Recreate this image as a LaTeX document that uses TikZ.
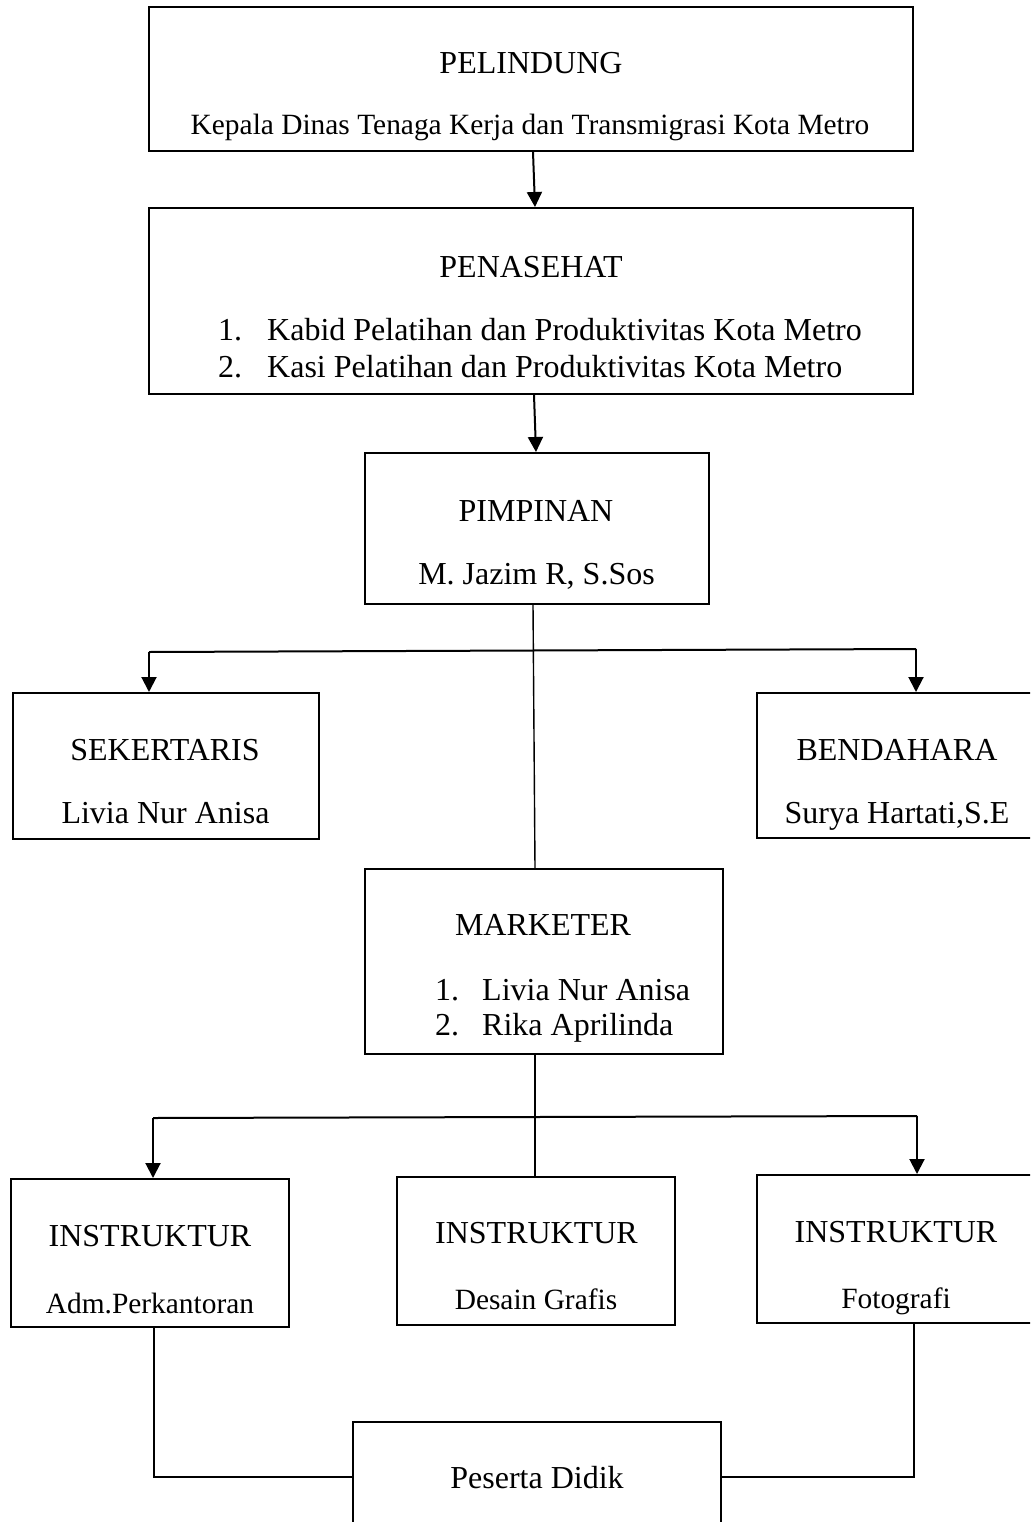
\documentclass[tikz,border=0pt]{standalone}
\usepackage{fontspec}
\setmainfont{Liberation Serif}
\usetikzlibrary{arrows.meta,calc}
\tikzset{
  box/.style={draw, line width=2pt, inner sep=0pt, rectangle},
  arr/.style={line width=2pt, -{Triangle[width=15pt,length=15pt]}},
  thick line/.style={line width=2pt},
  thin line/.style={line width=1.4pt},
  ttl/.style={anchor=base, inner sep=0pt, font=\fontsize{32}{38}\selectfont},
  sub/.style={anchor=base, inner sep=0pt, font=\fontsize{29.4}{35}\selectfont},
  itm/.style={anchor=base west, inner sep=0pt, font=\fontsize{32}{38}\selectfont},
}
\begin{document}
\begin{tikzpicture}[x=1pt,y=-1pt]
\clip (0,0) rectangle (1030,1522);
\useasboundingbox (0,0) rectangle (1030,1522);
% boxes
\node[box, minimum width=764pt, minimum height=144pt] (pel) at (531,79) {};
\node[box, minimum width=764pt, minimum height=186pt] (pen) at (531,301) {};
\node[box, minimum width=344pt, minimum height=151pt] (pim) at (537,528.5) {};
\node[box, minimum width=306pt, minimum height=146pt] (sek) at (166,766) {};
\node[box, minimum width=280pt, minimum height=145pt] (ben) at (897,765.5) {};
\node[box, minimum width=358pt, minimum height=185pt] (mar) at (544,961.5) {};
\node[box, minimum width=278pt, minimum height=148pt] (ins1) at (150,1253) {};
\node[box, minimum width=278pt, minimum height=148pt] (ins2) at (536,1251) {};
\node[box, minimum width=278pt, minimum height=148pt] (ins3) at (896,1249) {};
\node[box, minimum width=368pt, minimum height=138pt] (pes) at (537,1491) {};
% texts
\node[ttl] (t1) at (531,74) {PELINDUNG};
\node[sub] (t2) at (530,135) {Kepala Dinas Tenaga Kerja dan Transmigrasi Kota Metro};
\node[ttl] (t3) at (531,277) {PENASEHAT};
\node[itm] (t4a) at (218,340) {1.};
\node[itm] (t4b) at (267,340) {Kabid Pelatihan dan Produktivitas Kota Metro};
\node[itm] (t5a) at (218,377) {2.};
\node[itm] (t5b) at (267,377) {Kasi Pelatihan dan Produktivitas Kota Metro};
\node[ttl] (t6) at (536,521) {PIMPINAN};
\node[ttl] (t7) at (536.5,584) {M. Jazim R, S.Sos};
\node[ttl] (t8) at (165,760) {SEKERTARIS};
\node[ttl] (t9) at (165.5,823) {Livia Nur Anisa};
\node[ttl] (t10) at (897,760) {BENDAHARA};
\node[ttl] (t11) at (897,823) {Surya Hartati,S.E};
\node[ttl] (t12) at (543,935) {MARKETER};
\node[itm] (t13a) at (435,1000) {1.};
\node[itm] (t13b) at (482,1000) {Livia Nur Anisa};
\node[itm] (t14a) at (435,1035) {2.};
\node[itm] (t14b) at (482,1035) {Rika Aprilinda};
\node[ttl] (t15) at (150,1246) {INSTRUKTUR};
\node[sub] (t16) at (150,1313) {Adm.Perkantoran};
\node[ttl] (t17) at (536.5,1243) {INSTRUKTUR};
\node[sub] (t18) at (536,1309) {Desain Grafis};
\node[ttl] (t19) at (896,1242) {INSTRUKTUR};
\node[sub] (t20) at (896,1308) {Fotografi};
\node[ttl] (t21) at (537,1488) {Peserta Didik};
% connectors
\draw[arr] ([xshift=2pt]pel.south) -- ([xshift=4pt]pen.north);
\draw[arr] ([xshift=3pt]pen.south) -- ([xshift=-1pt]pim.north);
\draw[thin line] ([xshift=-4pt]pim.south) -- ([xshift=-9pt]mar.north);
\coordinate (b1l) at (149,652);
\coordinate (b1r) at (916,649);
\draw[thick line] (b1l) -- (b1r);
\draw[arr] (b1l) -- (b1l |- sek.north);
\draw[arr] (b1r) -- (b1r |- ben.north);
\draw[thin line] ([xshift=-9pt]mar.south) -- ([xshift=-1pt]ins2.north);
\coordinate (b2l) at (153,1118);
\coordinate (b2r) at (917,1116);
\draw[thick line] (b2l) -- (b2r);
\draw[arr] (b2l) -- (b2l |- ins1.north);
\draw[arr] (b2r) -- (b2r |- ins3.north);
\draw[thin line] ([xshift=4pt]ins1.south) |- ([yshift=14pt]pes.west);
\draw[thin line] ([xshift=18pt]ins3.south) |- ([yshift=14pt]pes.east);
\end{tikzpicture}
\end{document}
